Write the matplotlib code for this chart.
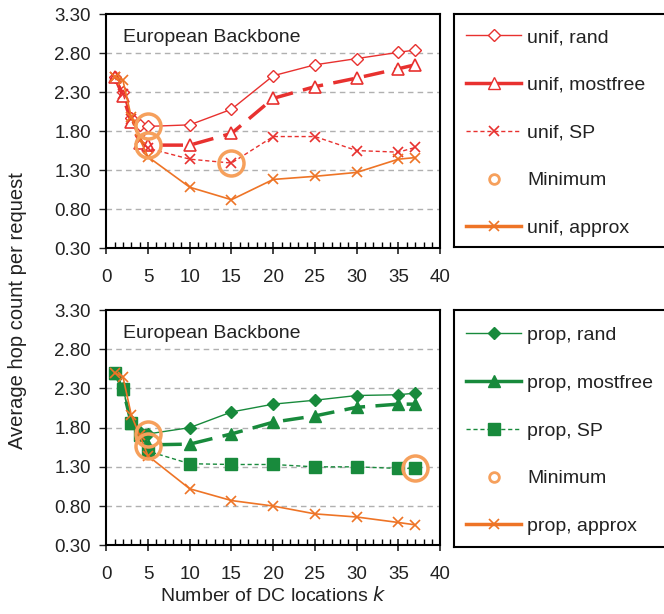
import matplotlib.pyplot as plt
import numpy as np
from matplotlib.lines import Line2D
from matplotlib.ticker import MultipleLocator

plt.rcParams['font.family'] = ['Liberation Sans', 'DejaVu Sans']

k = [1, 2, 3, 4, 5, 10, 15, 20, 25, 30, 35, 37]

# uniform demand
unif_rand = [2.50, 2.30, 1.97, 1.88, 1.86, 1.88, 2.08, 2.51, 2.65, 2.73, 2.81, 2.84]
unif_mostfree = [2.50, 2.25, 1.92, 1.65, 1.62, 1.62, 1.77, 2.22, 2.37, 2.48, 2.60, 2.65]
unif_sp = [2.50, 2.28, 1.95, 1.68, 1.58, 1.44, 1.39, 1.73, 1.73, 1.55, 1.53, 1.59]
unif_approx = [2.50, 2.45, 1.98, 1.70, 1.47, 1.08, 0.92, 1.18, 1.22, 1.27, 1.44, 1.46]
unif_min_k = [5, 5, 15]
unif_min_v = [1.86, 1.62, 1.39]

# proportional demand
prop_rand = [2.50, 2.30, 1.88, 1.75, 1.72, 1.80, 2.00, 2.10, 2.15, 2.21, 2.22, 2.24]
prop_mostfree = [2.50, 2.29, 1.86, 1.72, 1.58, 1.59, 1.72, 1.87, 1.95, 2.06, 2.10, 2.10]
prop_sp = [2.50, 2.29, 1.86, 1.71, 1.50, 1.34, 1.33, 1.33, 1.30, 1.30, 1.28, 1.28]
prop_approx = [2.50, 2.45, 1.96, 1.70, 1.44, 1.02, 0.87, 0.80, 0.70, 0.66, 0.59, 0.56]
prop_min_k = [5, 5, 37]
prop_min_v = [1.72, 1.56, 1.28]

yticks = [0.30, 0.80, 1.30, 1.80, 2.30, 2.80, 3.30]

red = '#e8312f'
green = '#188a3c'
orange = '#ee7426'
circ = '#f6a05c'
txt = '#222222'

fig = plt.figure(figsize=(6.64, 6.14), dpi=100)
ax1 = fig.add_axes([0.160, 0.596, 0.503, 0.381])
ax2 = fig.add_axes([0.160, 0.112, 0.503, 0.383])
lg1 = fig.add_axes([0.684, 0.598, 0.34, 0.379])
lg2 = fig.add_axes([0.684, 0.109, 0.34, 0.386])


def style(ax):
    ax.set_xlim(0, 40)
    ax.set_ylim(0.30, 3.30)
    ax.set_yticks(yticks)
    ax.set_yticklabels(['%.2f' % v for v in yticks])
    ax.xaxis.set_major_locator(MultipleLocator(5))
    ax.xaxis.set_minor_locator(MultipleLocator(1))
    ax.tick_params(axis='x', which='major', direction='inout', length=8, width=1.2,
                   labelsize=13.5, pad=11, colors=txt)
    ax.tick_params(axis='x', which='minor', direction='in', length=4, width=1)
    ax.tick_params(axis='y', direction='out', length=5, width=1, labelsize=13.5,
                   pad=6, colors=txt)
    for v in yticks[1:-1]:
        ax.axhline(v, color='#b0b0b0', lw=1, ls=(0, (4, 3)), zorder=0)
    for s in ax.spines.values():
        s.set_linewidth(1.5)
    ax.text(2.0, 3.00, 'European Backbone', fontsize=14, color=txt, va='center')


style(ax1)
style(ax2)

ax1.plot(k, unif_rand, color=red, lw=1, marker='D', ms=6, mfc='white', mec=red, mew=1)
ax1.plot(k, unif_mostfree, color=red, lw=2.5, ls=(0, (6, 3)), marker='^', ms=8, mfc='white', mec=red, mew=1.2)
ax1.plot(k, unif_sp, color=red, lw=1, ls=(0, (3, 2)), marker='x', ms=7, mew=1.2)
ax1.plot(k, unif_approx, color=orange, lw=1.2, marker='x', ms=7, mew=1.2)
ax1.plot(unif_min_k, unif_min_v, ls='none', marker='o', ms=18, mfc='none', mec=circ, mew=2.5)

ax2.plot(k, prop_rand, color=green, lw=1, marker='D', ms=6)
ax2.plot(k, prop_mostfree, color=green, lw=2.5, ls=(0, (6, 3)), marker='^', ms=8)
ax2.plot(k, prop_sp, color=green, lw=1, ls=(0, (3, 2)), marker='s', ms=8)
ax2.plot(k, prop_approx, color=orange, lw=1.2, marker='x', ms=7, mew=1.2)
ax2.plot(prop_min_k, prop_min_v, ls='none', marker='o', ms=18, mfc='none', mec=circ, mew=2.5)

ax2.set_xlabel('Number of DC locations $k$', fontsize=14, color=txt, labelpad=2)
fig.text(0.027, 0.495, 'Average hop count per request', rotation=90, fontsize=14.5,
         color=txt, ha='center', va='center')

h1 = [Line2D([], [], color=red, lw=1, marker='D', ms=6, mfc='white', mec=red),
      Line2D([], [], color=red, lw=2.5, marker='^', ms=8, mfc='white', mec=red),
      Line2D([], [], color=red, lw=1, ls=(0, (3, 2)), marker='x', ms=7, mew=1.2),
      Line2D([], [], color=circ, ls='none', marker='o', ms=7, mfc='none', mew=2),
      Line2D([], [], color=orange, lw=2.5, marker='x', ms=7, mew=1.2)]
l1 = ['unif, rand', 'unif, mostfree', 'unif, SP', 'Minimum', 'unif, approx']
h2 = [Line2D([], [], color=green, lw=1, marker='D', ms=6),
      Line2D([], [], color=green, lw=2.5, marker='^', ms=8),
      Line2D([], [], color=green, lw=1, ls=(0, (3, 2)), marker='s', ms=8),
      Line2D([], [], color=circ, ls='none', marker='o', ms=7, mfc='none', mew=2),
      Line2D([], [], color=orange, lw=2.5, marker='x', ms=7, mew=1.2)]
l2 = ['prop, rand', 'prop, mostfree', 'prop, SP', 'Minimum', 'prop, approx']

for lg, h, l in [(lg1, h1, l1), (lg2, h2, l2)]:
    lg.set_xticks([])
    lg.set_yticks([])
    for s in lg.spines.values():
        s.set_linewidth(1.5)
    lg.legend(h, l, loc='center left', bbox_to_anchor=(0.0, 0.49), frameon=False,
              fontsize=14, handlelength=2.85, labelspacing=1.55, handletextpad=0.3,
              borderaxespad=0.2, labelcolor=txt)

fig.savefig('out.png', dpi=100)
